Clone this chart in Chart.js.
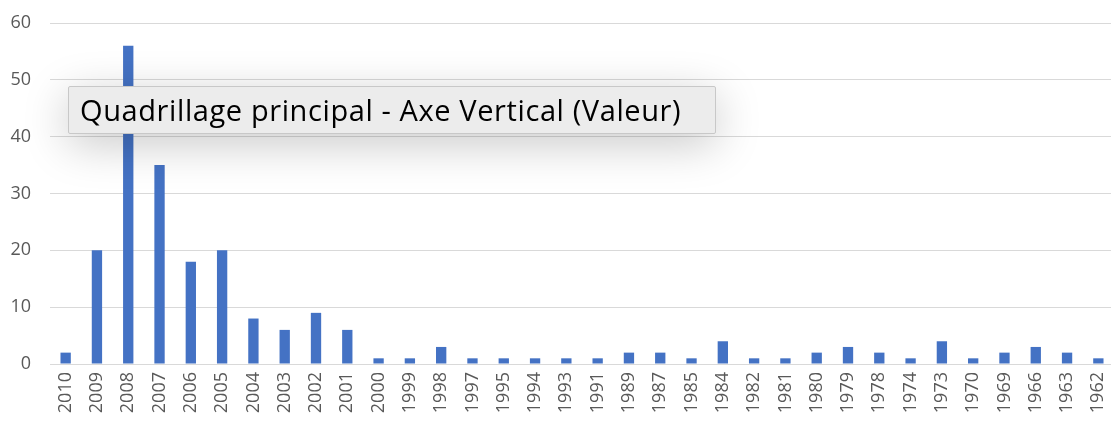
<!DOCTYPE html>
<html>
<head>
<meta charset="utf-8">
<script src="https://cdn.jsdelivr.net/npm/chart.js@4"></script>
<style>
  html, body { margin: 0; padding: 0; background: #ffffff; overflow: hidden; }
  #wrap { position: relative; width: 1111px; height: 422px; overflow: hidden; }
  #tip {
    position: absolute; left: 68px; top: 86px; width: 648px; height: 48px;
    background: #ececec; border: 1px solid #c8c8c8; border-radius: 2px;
    box-shadow: 0 10px 45px rgba(0,0,0,0.22);
    font-family: "Open Sans", sans-serif; font-size: 29px; letter-spacing: 0.6px; color: #000;
    line-height: 46px; padding-left: 11px; box-sizing: border-box; white-space: nowrap;
  }
</style>
</head>
<body>
<div id="wrap">
  <canvas id="c" width="1114" height="422"></canvas>
  <div id="tip">Quadrillage principal - Axe Vertical (Valeur)</div>
</div>
<script>
const categories = ["2010","2009","2008","2007","2006","2005","2004","2003","2002","2001","2000","1999","1998","1997","1995","1994","1993","1991","1989","1987","1985","1984","1982","1981","1980","1979","1978","1974","1973","1970","1969","1966","1963","1962"];
const values = [2,20,56,35,18,20,8,6,9,6,1,1,3,1,1,1,1,1,2,2,1,4,1,1,2,3,2,1,4,1,2,3,2,1];
const yTicks = [0,10,20,30,40,50,60];

new Chart(document.getElementById('c'), {
  type: 'bar',
  data: {
    labels: categories,
    datasets: [{
      data: values,
      backgroundColor: '#4472c4',
      borderWidth: 0,
      categoryPercentage: 1.0,
      barPercentage: 0.33
    }]
  },
  options: {
    responsive: false,
    animation: false,
    layout: { padding: { top: 23, right: 0, left: 0, bottom: 0 } },
    plugins: { legend: { display: false }, tooltip: { enabled: false } },
    scales: {
      x: {
        grid: { display: false, drawTicks: false },
        border: { display: true, color: '#d9d9d9', width: 1 },
        ticks: {
          color: '#595959', font: { family: 'Open Sans', size: 18 },
          minRotation: 90, maxRotation: 90, autoSkip: false, padding: 8
        },
        afterFit: s => { s.height = 58; s.paddingLeft = 0; s.paddingRight = 0; }
      },
      y: {
        min: 0, max: 60,
        afterBuildTicks: s => { s.ticks = yTicks.map(v => ({ value: v })); },
        grid: { color: '#d9d9d9', drawTicks: false },
        border: { display: false },
        ticks: { color: '#595959', font: { family: 'Open Sans', size: 18 }, padding: 19 },
        afterFit: s => { s.width = 50; s.paddingTop = 0; s.paddingBottom = 0; }
      }
    }
  }
});
</script>
</body>
</html>
